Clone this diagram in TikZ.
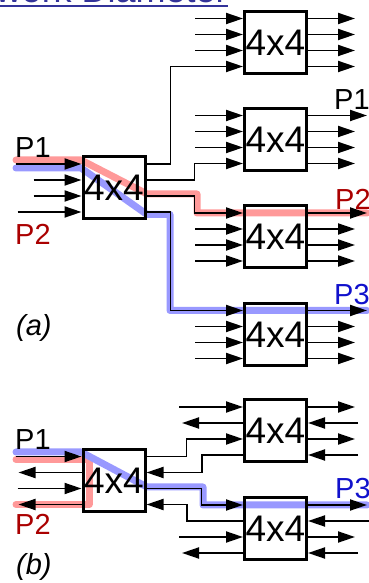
\documentclass[tikz,border=0pt]{standalone}
\usepackage{fontspec}
\setmainfont{Liberation Sans}
\usetikzlibrary{arrows.meta,backgrounds}
\definecolor{pathred}{RGB}{255,153,153}
\definecolor{pathblue}{RGB}{153,153,255}
\definecolor{lblred}{RGB}{170,0,0}
\definecolor{lblblue}{RGB}{17,17,204}
\definecolor{navy}{RGB}{51,51,153}

\begin{document}
\begin{tikzpicture}[
    x=1pt, y=1pt,
    switch/.style={
        draw, line width=3pt, minimum size=62pt, inner sep=0pt,
        font=\fontsize{37}{37}\selectfont
    },
    wire/.style={-{Triangle[length=17pt,width=11pt]}, line width=1.9pt},
    lbl/.style={font=\fontsize{29}{29}\selectfont, anchor=base west, inner sep=0pt},
    tag/.style={font=\fontsize{29}{29}\selectfont\itshape, anchor=base west, inner sep=0pt},
    hlred/.style={line width=7pt, color=pathred, line cap=round, line join=round},
    hlblue/.style={line width=7pt, color=pathblue, line cap=round, line join=round}
]
\useasboundingbox (0,0) rectangle (369,583);

% Title (cut by the top edge)
\node[font=\fontsize{36}{36}\selectfont, text=navy, anchor=base east, inner sep=0pt]
    (title) at (228,580) {Network Diameter};
\draw[navy, line width=2.3pt]
    ([yshift=-3pt]title.base west) -- ([yshift=-3pt]title.base east);

% ---------------- (a) ----------------
\node[switch] (a0) at (114,395)   {4x4};
\node[switch] (a1) at (275.5,540.5) {4x4};
\node[switch] (a2) at (275.5,443.5) {4x4};
\node[switch] (a3) at (275.5,346)   {4x4};
\node[switch] (a4) at (275.5,248.5) {4x4};

% highlighted paths
\begin{scope}[on background layer]
    \draw[hlred] (16,423) -- (81,423) -- (147,389) -- (197,389)
        -- (197,370) -- (367,370);
    \draw[hlblue] (16,415) -- (81,415) -- (147,368.5) -- (170,368.5)
        -- (170,272.5) -- (367,272.5);
\end{scope}

% inputs of the first stage
\draw[wire] ([shift={(-66,24)}]a0.west) -- ([yshift=24pt]a0.west);
\foreach \s in {8,-8}
    \draw[wire] ([shift={(-48,\s)}]a0.west) -- ([yshift=\s pt]a0.west);
\draw[wire] ([shift={(-64,-24)}]a0.west) -- ([yshift=-24pt]a0.west);

% first stage to second stage
\draw[wire] ([yshift=24pt]a0.east) -- ++(24,0) |- ([yshift=-24pt]a1.west);
\draw[wire] ([yshift=8pt]a0.east) -- ++(48,0) |- ([yshift=-24pt]a2.west);
\draw[wire] ([yshift=-8pt]a0.east) -- ++(48,0) |- ([yshift=24pt]a3.west);
\draw[wire] ([yshift=-24pt]a0.east) -- ++(24,0) |- ([yshift=24pt]a4.west);

% free inputs of the second stage
\foreach \s in {24,8,-8}
    \draw[wire] ([shift={(-48,\s)}]a1.west) -- ([yshift=\s pt]a1.west);
\foreach \s in {24,8,-8}
    \draw[wire] ([shift={(-48,\s)}]a2.west) -- ([yshift=\s pt]a2.west);
\foreach \b in {a3,a4}
    \foreach \s in {8,-8,-24}
        \draw[wire] ([shift={(-48,\s)}]\b.west) -- ([yshift=\s pt]\b.west);

% outputs
\foreach \s in {24,8,-8,-24}
    \draw[wire] ([yshift=\s pt]a1.east) -- ++(47,0);
\foreach \b in {a2,a3,a4} {
    \draw[wire] ([yshift=24pt]\b.east) -- ++(59,0);
    \foreach \s in {8,-8,-24}
        \draw[wire] ([yshift=\s pt]\b.east) -- ++(47,0);
}

% labels
\node[lbl] (a-p1) at (15,425) {P1};
\node[lbl, text=lblred] (a-p2) at (15,338) {P2};
\node[lbl] (a-q1) at (334,473) {P1};
\node[lbl, text=lblred] (a-q2) at (335,373) {P2};
\node[lbl, text=lblblue] (a-q3) at (334,278) {P3};
\node[tag] (a-tag) at (16,247) {(a)};

% ---------------- (b) ----------------
\node[switch] (b0) at (114,102.5) {4x4};
\node[switch] (b1) at (275.5,152) {4x4};
\node[switch] (b2) at (275.5,54)  {4x4};

% highlighted paths
\begin{scope}[on background layer]
    \draw[hlred] (16,123.5) -- (89,123.5) -- (89,78.5) -- (16,78.5);
    \draw[hlblue] (16,131) -- (81,131) -- (147,96) -- (203,96)
        -- (203,78) -- (367,78);
\end{scope}

% left side of the first stage
\draw[wire] ([shift={(-66,24)}]b0.west) -- ([yshift=24pt]b0.west);
\draw[wire] ([yshift=8pt]b0.west) -- ++(-63,0);
\draw[wire] ([shift={(-64,-8)}]b0.west) -- ([yshift=-8pt]b0.west);
\draw[wire] ([yshift=-24pt]b0.west) -- ++(-63,0);

% between the stages
\draw[wire] ([yshift=24pt]b0.east) -- ++(40,0) |- ([yshift=-8pt]b1.west);
\draw[wire] ([yshift=-24pt]b1.west) -- ++(-41,0) |- ([yshift=8pt]b0.east);
\draw[wire] ([yshift=-8pt]b0.east) -- ++(55,0) |- ([yshift=24pt]b2.west);
\draw[wire] ([yshift=8pt]b2.west) -- ++(-56,0) |- ([yshift=-24pt]b0.east);

% free ports of the second stage
\draw[wire] ([shift={(-64,24)}]b1.west) -- ([yshift=24pt]b1.west);
\draw[wire] ([yshift=8pt]b1.west) -- ++(-61,0);
\draw[wire] ([shift={(-64,-8)}]b2.west) -- ([yshift=-8pt]b2.west);
\draw[wire] ([yshift=-24pt]b2.west) -- ++(-61,0);

\foreach \s in {24,-8}
    \draw[wire] ([yshift=\s pt]b1.east) -- ++(47,0);
\foreach \s in {8,-24}
    \draw[wire] ([shift={(50,\s)}]b1.east) -- ([yshift=\s pt]b1.east);

\draw[wire] ([yshift=24pt]b2.east) -- ++(59,0);
\draw[wire] ([shift={(61,8)}]b2.east) -- ([yshift=8pt]b2.east);
\draw[wire] ([yshift=-8pt]b2.east) -- ++(47,0);
\draw[wire] ([shift={(50,-24)}]b2.east) -- ([yshift=-24pt]b2.east);

% labels
\node[lbl] (b-p1) at (15,133) {P1};
\node[lbl, text=lblred] (b-p2) at (15,48) {P2};
\node[lbl, text=lblblue] (b-q3) at (335,84) {P3};
\node[tag] (b-tag) at (16,9) {(b)};

\end{tikzpicture}
\end{document}
